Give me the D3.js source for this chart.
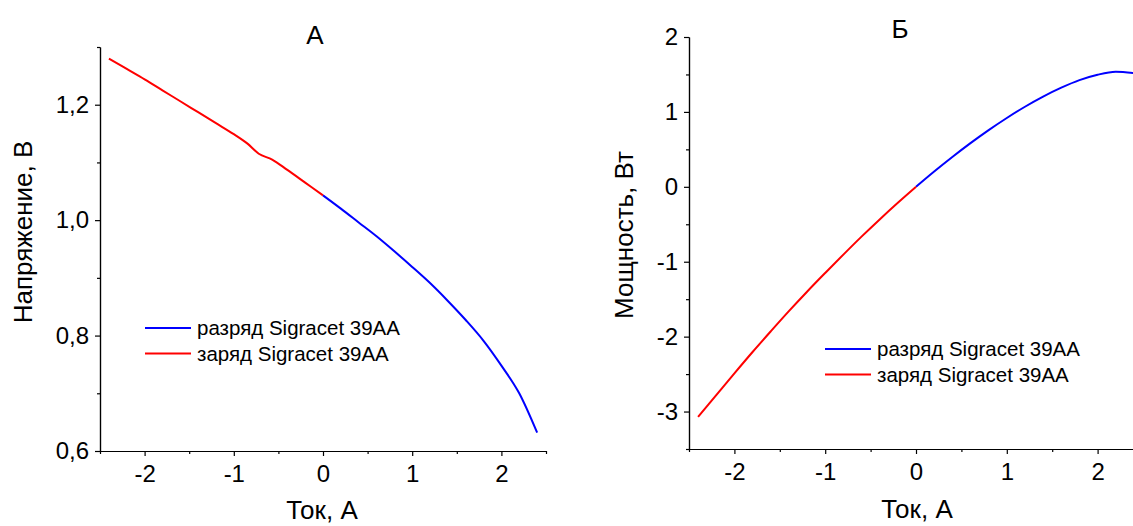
<!DOCTYPE html>
<html>
<head>
<meta charset="utf-8">
<script src="https://cdn.jsdelivr.net/npm/d3@7"></script>
<style>
  body { margin: 0; background: #fff; }
  svg { font-family: "Liberation Sans", Arial, sans-serif; }
  .axis path, .axis line { stroke: #000; stroke-width: 1.2; }
  .axis text { font-size: 24px; fill: #000; }
</style>
</head>
<body>
<svg id="chart" width="1133" height="526"></svg>
<script>
// current, A (panel A)
const chargeI = [-2.4, -2.2, -2.0, -1.8, -1.6, -1.4, -1.2, -1.0, -0.85, -0.72, -0.57, -0.4, -0.2, 0];
const dischargeI = [0, 0.2, 0.4, 0.6, 0.8, 1.0, 1.2, 1.4, 1.6, 1.8, 2.0, 2.2, 2.4];
// voltage, V (panel A)
const chargeV = [1.280, 1.262, 1.244, 1.225, 1.206, 1.187, 1.168, 1.149, 1.133, 1.115, 1.105, 1.087, 1.065, 1.043];
const dischargeV = [1.043, 1.020, 0.996, 0.972, 0.946, 0.919, 0.891, 0.860, 0.827, 0.791, 0.748, 0.700, 0.632];
// current, A (panel B)
const chargeIB = [-2.4, -2.2, -2.0, -1.8, -1.6, -1.4, -1.2, -1.0, -0.8, -0.6, -0.4, -0.2, 0];
// power, W (panel B)
const chargeP = [-3.07, -2.78, -2.49, -2.205, -1.93, -1.66, -1.40, -1.15, -0.905, -0.665, -0.435, -0.213, 0];
const dischargeP = [0, 0.204, 0.398, 0.583, 0.757, 0.919, 1.069, 1.204, 1.323, 1.424, 1.496, 1.535, 1.517];

const legendLabels = ['разряд Sigracet 39AA', 'заряд Sigracet 39AA'];
const seriesColors = ['#0000ff', '#ff0000'];

const xMajor = [-2, -1, 0, 1, 2];
const xMinor = [-2.5, -1.5, -0.5, 0.5, 1.5, 2.5];

const svg = d3.select('#chart');
const fmtComma = v => d3.format('.1f')(v).replace('.', ',');
const fmtInt = v => String(v);

function drawPanel(p){
    const g = svg.append('g');
    const x = d3.scaleLinear().domain([-2.5, 2.5]).range([p.left, p.right]);
    const y = d3.scaleLinear().domain(p.yDomain).range([p.bottom, p.top]);

    // minor ticks first, then major axis on top
    g.append('g').attr('class', 'axis')
        .attr('transform', `translate(0,${p.bottom})`)
        .call(d3.axisBottom(x).tickValues(xMinor).tickSize(3).tickSizeOuter(0).tickFormat(''));
    g.append('g').attr('class', 'axis')
        .attr('transform', `translate(${p.left},0)`)
        .call(d3.axisLeft(y).tickValues(p.yMinor).tickSize(3).tickSizeOuter(0).tickFormat(''));

    g.append('g').attr('class', 'axis')
        .attr('transform', `translate(0,${p.bottom})`)
        .call(d3.axisBottom(x).tickValues(xMajor).tickSize(5).tickSizeOuter(0).tickPadding(9).tickFormat(fmtInt));
    g.append('g').attr('class', 'axis')
        .attr('transform', `translate(${p.left},0)`)
        .call(d3.axisLeft(y).tickValues(p.yMajor).tickSize(5).tickSizeOuter(0).tickPadding(6).tickFormat(p.yFormat));

    const line = d3.line().x(d => x(d[0])).y(d => y(d[1])).curve(d3.curveMonotoneX);
    const discharge = dischargeI.map((v, i) => [v, p.discharge[i]]);
    const charge = p.chargeX.map((v, i) => [v, p.charge[i]]);
    g.append('path').datum(discharge).attr('d', line)
        .attr('fill', 'none').attr('stroke', seriesColors[0]).attr('stroke-width', 2);
    g.append('path').datum(charge).attr('d', line)
        .attr('fill', 'none').attr('stroke', seriesColors[1]).attr('stroke-width', 2);

    // title and axis labels
    g.append('text').attr('x', p.titleX).attr('y', p.titleY)
        .attr('text-anchor', 'middle').style('font-size', '26px').text(p.title);
    g.append('text').attr('x', p.xLabelX).attr('y', p.xLabelY)
        .attr('text-anchor', 'middle').style('font-size', '26px').text('Ток, А');
    g.append('text')
        .attr('transform', `translate(${p.yLabelX},${p.yLabelY}) rotate(-90)`)
        .attr('text-anchor', 'middle').style('font-size', '26px').text(p.yLabel);

    // legend
    legendLabels.forEach((label, i) => {
        const ly = p.legendY + i * 25.5;
        g.append('line').attr('x1', p.legendX).attr('x2', p.legendX + 46)
            .attr('y1', ly).attr('y2', ly)
            .attr('stroke', seriesColors[i]).attr('stroke-width', 2);
        g.append('text').attr('x', p.legendX + 52).attr('y', ly)
            .attr('dy', '0.35em').style('font-size', '20.5px').text(label);
    });
}

drawPanel({
    left: 100, right: 546, top: 47, bottom: 451,
    yDomain: [0.6, 1.3], yMajor: [0.6, 0.8, 1.0, 1.2], yMinor: [0.7, 0.9, 1.1, 1.3],
    yFormat: fmtComma,
    chargeX: chargeI, charge: chargeV, discharge: dischargeV,
    title: 'А', titleX: 315, titleY: 44,
    xLabelX: 322, xLabelY: 519,
    yLabel: 'Напряжение, В', yLabelX: 32, yLabelY: 232,
    legendX: 145, legendY: 328
});

drawPanel({
    left: 689, right: 1143, top: 37, bottom: 449,
    yDomain: [-3.5, 2], yMajor: [-3, -2, -1, 0, 1, 2], yMinor: [-3.5, -2.5, -1.5, -0.5, 0.5, 1.5],
    yFormat: fmtInt,
    chargeX: chargeIB, charge: chargeP, discharge: dischargeP,
    title: 'Б', titleX: 900, titleY: 38,
    xLabelX: 917, xLabelY: 518,
    yLabel: 'Мощность, Вт', yLabelX: 633, yLabelY: 235,
    legendX: 825, legendY: 349
});
</script>
</body>
</html>
